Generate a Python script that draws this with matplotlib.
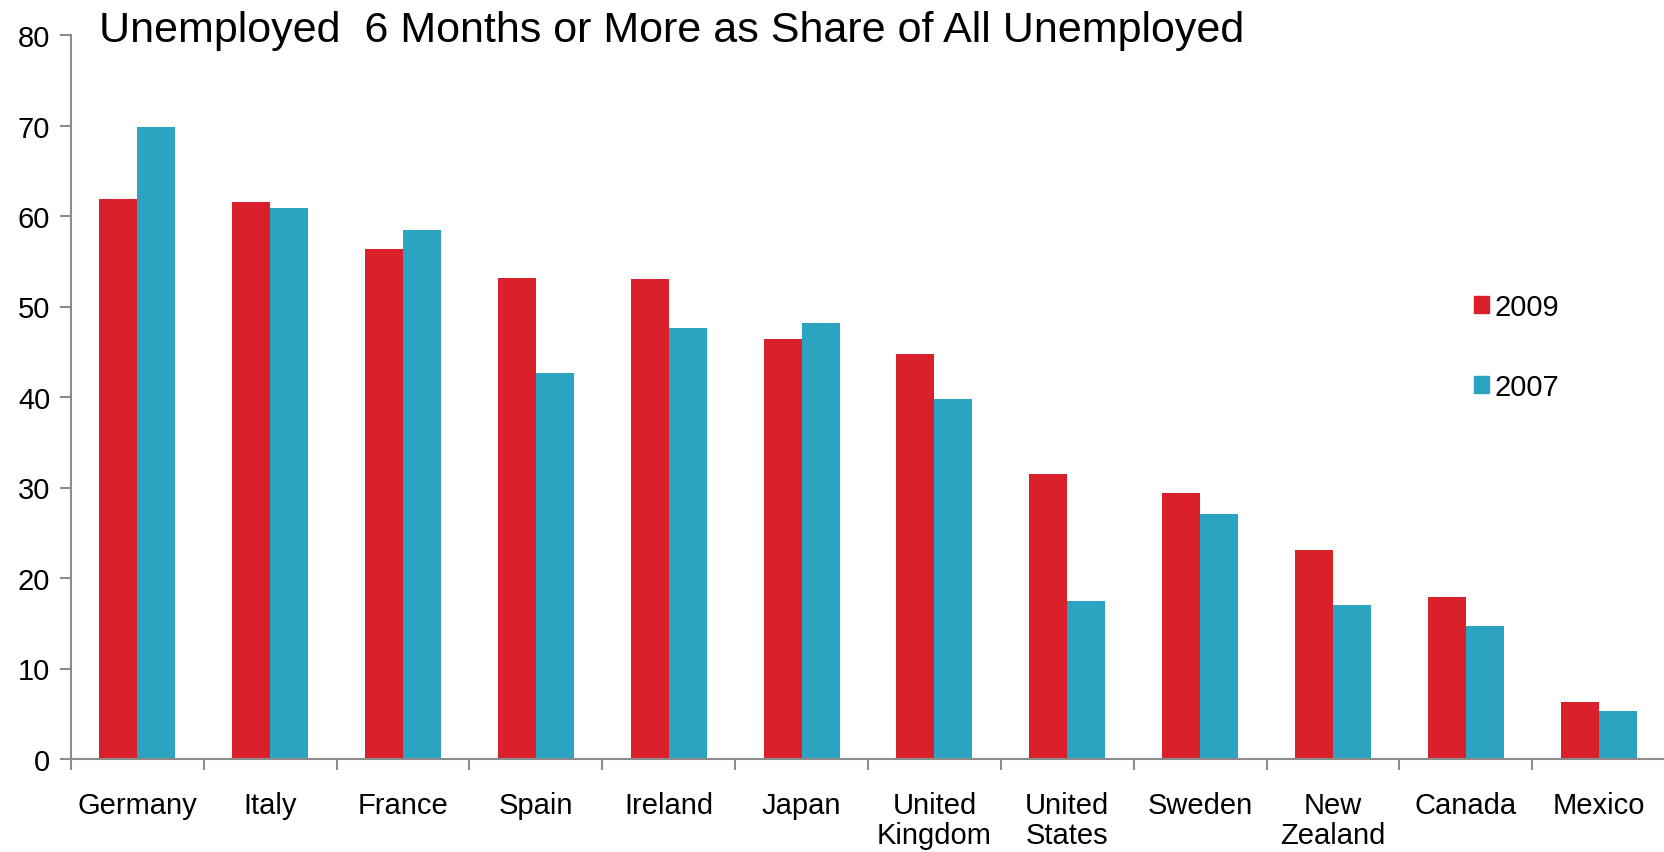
import numpy as np
import matplotlib
matplotlib.use("Agg")
import matplotlib.pyplot as plt
from matplotlib.patches import Patch

plt.rcParams['font.family'] = ['Liberation Sans', 'DejaVu Sans']

# data
countries = ['Germany', 'Italy', 'France', 'Spain', 'Ireland', 'Japan',
             'United\nKingdom', 'United\nStates', 'Sweden', 'New\nZealand',
             'Canada', 'Mexico']
y2009 = [61.9, 61.5, 56.3, 53.2, 53.0, 46.4, 44.8, 31.5, 29.4, 23.1, 17.9, 6.3]
y2007 = [69.8, 60.9, 58.5, 42.7, 47.6, 48.2, 39.8, 17.5, 27.1, 17.0, 14.7, 5.3]
yticks = [0, 10, 20, 30, 40, 50, 60, 70, 80]

red = '#DA202A'
teal = '#2CA3C0'
grey = '#8C8C8C'

fig = plt.figure(figsize=(16.65, 8.53), dpi=100)
ax = fig.add_axes([71/1665, 93/853, 1 - 71/1665, (760-36)/853])

x = np.arange(len(countries))
w = 0.286
ax.bar(x - w/2, y2009, w, color=red, edgecolor='none')
ax.bar(x + w/2, y2007, w, color=teal, edgecolor='none')

ax.set_xlim(-0.5, len(countries) - 0.5)
ax.set_ylim(0, 80)
ax.set_yticks(yticks)
ax.set_yticklabels([str(t) for t in yticks], fontsize=21)

# tick marks at category boundaries, labels at centres
ax.set_xticks(np.arange(-0.5, len(countries) - 0.5, 1.0))
ax.set_xticklabels([])
ax.set_xticks(x, minor=True)
ax.set_xticklabels(countries, minor=True, fontsize=21, linespacing=1.1)
ax.tick_params(axis='x', which='minor', length=0, pad=23)
ax.tick_params(axis='x', which='major', length=8, width=1.5, color=grey, direction='out')
ax.tick_params(axis='y', length=8, width=1.5, color=grey, direction='out', pad=7)

for s in ['top', 'right']:
    ax.spines[s].set_visible(False)
for s in ['left', 'bottom']:
    ax.spines[s].set_color(grey)
    ax.spines[s].set_linewidth(1.5)

fig.text(99/1665, 1 - 42/853, 'Unemployed  6 Months or More as Share of All Unemployed',
         fontsize=31, ha='left', va='baseline')

handles = [Patch(color=red, label='2009'), Patch(color=teal, label='2007')]
fig.legend(handles=handles, loc='center left', bbox_to_anchor=(1474/1665, 1 - 348/853),
           frameon=False, fontsize=21, handlelength=0.52, handleheight=0.52,
           handletextpad=0.2, labelspacing=1.8, borderpad=0, borderaxespad=0)

fig.savefig('out.png', dpi=100)
